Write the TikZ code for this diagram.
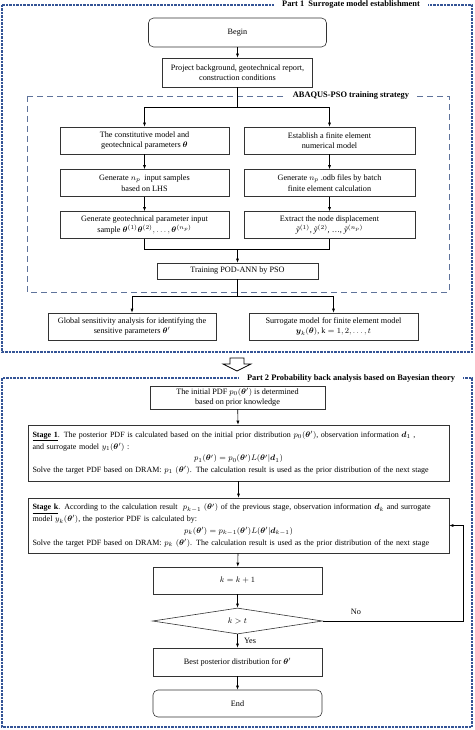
\documentclass[tikz,border=0pt]{standalone}
\usepackage{fontspec}
\setmainfont{Liberation Serif}
\usepackage{amsmath,bm}
\usetikzlibrary{arrows.meta,shapes.geometric}
\definecolor{navy}{RGB}{52,84,150}
\definecolor{dashblue}{RGB}{95,115,155}
\newcommand{\ytil}[1]{\textit{ỹ}$^{(#1)}$}
\begin{document}
\begin{tikzpicture}[x=1pt,y=-1pt,
 font=\fontsize{8.2}{10.5}\selectfont,
 box/.style={draw=black!80, line width=0.6pt, fill=white, align=center, inner sep=2pt},
 rbox/.style={box, rounded corners=5pt},
 arr/.style={-{Latex[length=4pt,width=3pt]}, line width=0.6pt},
 ln/.style={line width=0.6pt},
 outerbox/.style={draw=navy, line width=1.5pt, dash pattern=on 2.5pt off 1pt},
 innerbox/.style={draw=dashblue, line width=0.8pt, dash pattern=on 6pt off 4pt},
 ttl/.style={fill=white, font=\fontsize{8.4}{10}\selectfont\bfseries, inner xsep=8pt, inner ysep=1pt},
 stagebox/.style={box, minimum width=421pt, text width=412pt, inner xsep=4.5pt, align=left, font=\fontsize{8}{11.8}\selectfont}
]
\useasboundingbox (0,0) rectangle (474,730);
% Part 1
\draw[outerbox] (2,5) rectangle (472,352);
\node[ttl] (t1) at (351,5) {Part 1\ \ Surrogate model establishment};
\node[rbox, minimum width=178pt, minimum height=29pt] (begin) at (237.5,32.5) {Begin};
\node[box, minimum width=150pt, minimum height=29pt] (proj) at (237.5,72.5) {Project background, geotechnical report,\\construction conditions};
\draw[innerbox] (27,96) rectangle (449,292);
\node[ttl] (t3) at (351,96) {ABAQUS-PSO training strategy};
\node[box, minimum width=169pt, minimum height=27pt] (L1) at (144.5,140.5) {The constitutive model and\\geotechnical parameters $\bm{\theta}$};
\node[box, minimum width=171pt, minimum height=27pt] (R1) at (329.5,140.5) {Establish a finite element\\numerical model};
\node[box, minimum width=169pt, minimum height=27pt] (L2) at (144.5,183) {Generate $n_p$\ \ input samples\\based on LHS};
\node[box, minimum width=171pt, minimum height=27pt] (R2) at (329.5,183) {Generate $n_p$ .odb files by batch\\finite element calculation};
\node[box, minimum width=169pt, minimum height=27pt] (L3) at (144.5,225) {Generate geotechnical parameter input\\sample $\bm{\theta}^{(1)}\bm{\theta}^{(2)},\dots,\bm{\theta}^{(n_p)}$};
\node[box, minimum width=171pt, minimum height=27pt] (R3) at (329.5,225) {Extract the node displacement\\\ytil{1}, \ytil{2}, \dots, \ytil{n_p}};
\node[box, minimum width=161pt, minimum height=16pt] (train) at (237.5,271) {Training POD-ANN by PSO};
\node[box, minimum width=168pt, minimum height=27pt] (glob) at (132,326.5) {Global sensitivity analysis for identifying the\\sensitive parameters $\bm{\theta}'$};
\node[box, minimum width=169pt, minimum height=27pt] (surr) at (333.5,326.5) {Surrogate model for finite element model\\$\bm{y}_k(\bm{\theta})$, $\mathrm{k}=1,2,\dots,t$};
\draw[arr] (begin) -- (proj);
\coordinate (s1) at (237.5,107);
\draw[arr] (proj.south) -- (s1) -| (L1.north);
\draw[arr] (proj.south) -- (s1) -| (R1.north);
\draw[arr] (L1) -- (L2);
\draw[arr] (L2) -- (L3);
\draw[arr] (R1) -- (R2);
\draw[arr] (R2) -- (R3);
\coordinate (m) at (237.5,249);
\draw[ln] (L3.south) |- (m);
\draw[ln] (R3.south) |- (m);
\draw[arr] (m) -- (train);
\coordinate (s2) at (237.5,296);
\draw[arr] (train.south) -- (s2) -| (glob.north);
\draw[arr] (train.south) -- (s2) -| (surr.north);
% hollow arrow
\draw[line width=0.7pt, fill=white] (230,358) -- (244,358) -- (244,364) -- (251,364) -- (237,371) -- (223,364) -- (230,364) -- cycle;
% Part 2
\draw[outerbox] (2,378) rectangle (472,727);
\node[ttl] (t2) at (351,378) {Part 2 Probability back analysis based on Bayesian theory};
\node[box, minimum width=175pt, minimum height=23pt] (init) at (237.5,397.5) {The initial PDF $p_0(\bm{\theta}')$ is determined\\based on prior knowledge};
\node[stagebox, minimum height=56pt] (st1) at (238.5,453) {\underline{\textbf{Stage 1}}. The posterior PDF is calculated based on the initial prior distribution $p_0(\bm{\theta}')$, observation information $\bm{d}_1$ ,\\
and surrogate model $y_1(\bm{\theta}')$ :\\
\makebox[\hsize]{$p_1(\bm{\theta}')=p_0(\bm{\theta}')L(\bm{\theta}'|\bm{d}_1)$}\\
Solve the target PDF based on DRAM: $p_1$ $(\bm{\theta}')$. The calculation result is used as the prior distribution of the next stage};
\node[stagebox, minimum height=55pt] (stk) at (238.5,525.5) {\underline{\textbf{Stage k}}. According to the calculation result\ \ $p_{k-1}$ $(\bm{\theta}')$ of the previous stage, observation information $\bm{d}_k$ and surrogate\\
model $y_k(\bm{\theta}')$, the posterior PDF is calculated by:\\
\makebox[\hsize]{$p_k(\bm{\theta}')=p_{k-1}(\bm{\theta}')L(\bm{\theta}'|\bm{d}_{k-1})$}\\
Solve the target PDF based on DRAM: $p_k$ $(\bm{\theta}')$. The calculation result is used as the prior distribution of the next stage};
\node[box, minimum width=169pt, minimum height=27pt] (kk) at (237.5,580.5) {$k=k+1$};
\node[draw=black!80, line width=0.6pt, diamond, aspect=6.5, minimum width=170pt, minimum height=26pt, inner sep=0pt] (dia) at (237.5,621) {$k>t$};
\node[box, minimum width=169pt, minimum height=28pt] (best) at (237.5,662) {Best posterior distribution for $\bm{\theta}'$};
\node[rbox, minimum width=169pt, minimum height=27pt] (end) at (237.5,703.5) {End};
\draw[arr] (init) -- (st1);
\draw[arr] (st1) -- (stk);
\draw[arr] (stk) -- (kk);
\draw[arr] (kk) -- (dia);
\draw[arr] (dia) -- (best);
\draw[arr] (best) -- (end);
\coordinate (nr) at (463,621);
\draw[arr] (dia.east) -- (nr) |- (stk.east);
\node (no) at (356,612) {No};
\node (yes) at (250,641) {Yes};
\end{tikzpicture}
\end{document}
